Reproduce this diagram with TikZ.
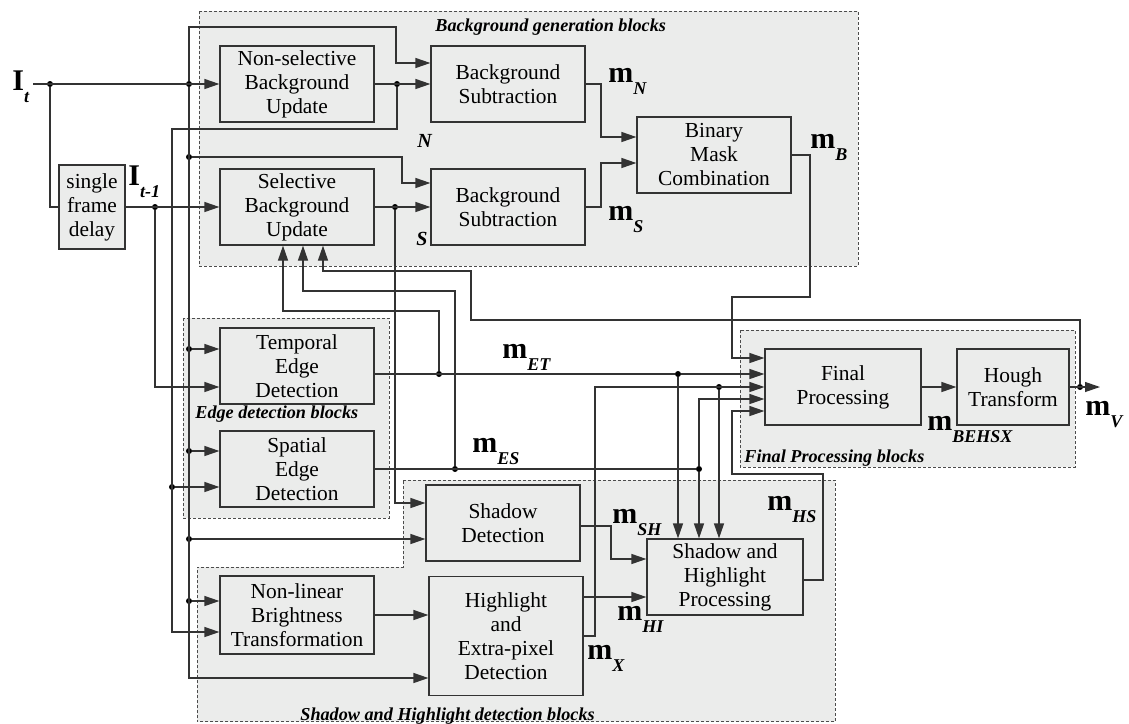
\documentclass[tikz,border=0pt]{standalone}
\usepackage{fontspec}
\setmainfont{Liberation Serif}
\usepackage{tikz}
\usetikzlibrary{arrows.meta}

\definecolor{boxgray}{RGB}{235,236,235}
\newcommand{\boxfont}{\fontsize{10.7}{12}\selectfont}
\newcommand{\ttlfont}{\fontsize{9.1}{11}\selectfont\bfseries\itshape}
% bold signal name with lowered bold-italic index
\newcommand{\msig}[2]{{\fontsize{15}{15}\selectfont\bfseries #1}\raisebox{-6pt}{\fontsize{9}{10}\selectfont\bfseries\itshape #2}}

\tikzset{
  blk/.style={draw=black!80, fill=boxgray, line width=0.6pt, align=center, inner sep=1pt,
    font=\boxfont, minimum width=77pt, minimum height=38pt},
  grp/.style={draw=black!70, fill=boxgray, line width=0.5pt, dash pattern=on 1.5pt off 1pt},
  wire/.style={draw=black!80, line width=0.6pt, -{Triangle[length=7.5pt,width=5pt]}},
  link/.style={draw=black!80, line width=0.6pt},
  dot/.style={circle, fill=black, inner sep=0pt, minimum size=3pt},
  ttl/.style={font=\ttlfont, anchor=base west, inner sep=0pt},
  lab/.style={anchor=base west, inner sep=0pt},
}

\begin{document}
\begin{tikzpicture}[x=0.5pt,y=-0.5pt]
  \useasboundingbox (0,0) rectangle (1129,723);

  % block groups
  \draw[grp] (199,11) rectangle (858,266);
  \draw[grp] (183,318) rectangle (389,518);
  \draw[grp] (740,330) rectangle (1075,467);
  \draw[grp] (403,480) -- (835,480) -- (835,721.5) -- (197,721.5) -- (197,567) -- (403,567) -- cycle;
  \node[ttl] at (435,31) {Background generation blocks};
  \node[ttl] at (195,418) {Edge detection blocks};
  \node[ttl] at (744,462) {Final Processing blocks};
  \node[ttl] at (300,720) {Shadow and Highlight detection blocks};

  % blocks
  \node[blk, minimum width=33pt, minimum height=42pt] (delay) at (92,207) {single\\frame\\delay};
  \node[blk] (nsbu) at (297,84) {Non-selective\\Background\\Update};
  \node[blk] (sbu) at (297,207) {Selective\\Background\\Update};
  \node[blk] (bs1) at (508,84) {Background\\Subtraction};
  \node[blk] (bs2) at (508,207) {Background\\Subtraction};
  \node[blk] (bmc) at (714,155) {Binary\\Mask\\Combination};
  \node[blk] (ted) at (297,366) {Temporal\\Edge\\Detection};
  \node[blk] (sed) at (297,469) {Spatial\\Edge\\Detection};
  \node[blk] (sd) at (503,523) {Shadow\\Detection};
  \node[blk, minimum height=39pt] (nlb) at (297,615) {Non-linear\\Brightness\\Transformation};
  \node[blk, minimum height=59.5pt] (hed) at (506,636) {Highlight\\and\\Extra-pixel\\Detection};
  \node[blk, minimum width=78pt] (shp) at (725,577) {Shadow and\\Highlight\\Processing};
  \node[blk, minimum width=78pt] (fp) at (843,387) {Final\\Processing};
  \node[blk, minimum width=56pt] (hough) at (1013,387) {Hough\\Transform};

  % junctions
  \coordinate (itin) at (33,84);
  \coordinate (mv) at (1100,387);
  \node[dot] (ja) at (50,84) {};
  \node[dot] (jb) at (189,84) {};
  \node[dot] (jc) at (155,207) {};
  \node[dot] (jd) at (189,157) {};
  \node[dot] (je) at (189,349) {};
  \node[dot] (jf) at (189,451) {};
  \node[dot] (jg) at (189,539) {};
  \node[dot] (jh) at (189,601) {};
  \node[dot] (ji) at (397,84) {};
  \node[dot] (jj) at (172,487) {};
  \node[dot] (jk) at (395,207) {};
  \node[dot] (jl) at (439,374) {};
  \node[dot] (jm) at (678,374) {};
  \node[dot] (jn) at (455,469) {};
  \node[dot] (jo) at (699,469) {};
  \node[dot] (jp) at (719,387) {};
  \node[dot] (jq) at (1080,387) {};

  % current frame
  \draw[wire] (itin) -- (nsbu.west);
  \draw[link] (ja) |- (delay.west);
  \draw[wire] (jb) |- (396,27) |- ([yshift=10.5pt]bs1.west);
  \draw[wire] (jb) |- ([yshift=-21pt]hed.west);
  \draw[wire] (jd) -- (402,157) |- ([yshift=12pt]bs2.west);
  \draw[wire] (je) -- (je -| ted.west);
  \draw[wire] (jf) -- (jf -| sed.west);
  \draw[wire] (jg) -- (jg -| sd.west);
  \draw[wire] (jh) -- (jh -| nlb.west);

  % previous frame
  \draw[wire] (delay.east) -- (sbu.west);
  \draw[wire] (jc) |- ([yshift=-10.5pt]ted.west);

  % background models
  \draw[wire] (nsbu.east) -- (bs1.west);
  \draw[wire] (ji) |- (172,129) |- ([yshift=-8.5pt]nlb.west);
  \draw[wire] (jj) -- (jj -| sed.west);
  \draw[wire] (sbu.east) -- (bs2.west);
  \draw[wire] (jk) |- ([yshift=10pt]sd.west);
  \draw[wire] (bs1.east) -- (601,84) |- ([yshift=9pt]bmc.west);
  \draw[wire] (bs2.east) -- (601,207) |- ([yshift=-4pt]bmc.west);
  \draw[wire] (bmc.east) -- (810,155) |- (732,297) |- ([yshift=14.5pt]fp.west);

  % edge masks
  \draw[wire] ([yshift=-4pt]ted.east) -- (jm) -- ([yshift=6.5pt]fp.west);
  \draw[wire] (jl) |- (283,311) -- ([xshift=-7pt]sbu.south);
  \draw[wire] (jm) -- (jm |- shp.north);
  \draw[link] (sed.east) -- (jo);
  \draw[wire] (jn) |- (303,291) -- ([xshift=3pt]sbu.south);
  \draw[wire] (jo) |- ([yshift=-6pt]fp.west);
  \draw[wire] (jo) -- (jo |- shp.north);

  % shadow and highlight
  \draw[wire] (nlb.east) -- (nlb.east -| hed.west);
  \draw[wire] ([yshift=-1.5pt]sd.east) -- (611,526) |- ([yshift=9pt]shp.west);
  \draw[wire] ([yshift=19.5pt]hed.east) -- ([yshift=-10pt]shp.west);
  \draw[wire] (hed.east) -- (595,636) |- (fp.west);
  \draw[wire] (jp) -- (jp |- shp.north);
  \draw[wire] ([yshift=-1.5pt]shp.east) -- (823,580) |- (732,474) |- ([yshift=-12pt]fp.west);

  % final output and feedback
  \draw[wire] (fp) -- (hough);
  \draw[wire] (hough.east) -- (mv);
  \draw[wire] (jq) |- (471,320) |- (323,271) -- ([xshift=13pt]sbu.south);

  % signal labels
  \node[lab] at (12,90) {\msig{I}{t}};
  \node[lab] at (128,185) {\msig{I}{t-1}};
  \node[lab] at (608,82) {\msig{m}{N}};
  \node[lab] at (608,220) {\msig{m}{S}};
  \node[lab] at (810,148) {\msig{m}{B}};
  \node[lab] at (502,358) {\msig{m}{ET}};
  \node[lab] at (472,452) {\msig{m}{ES}};
  \node[lab] at (612,523) {\msig{m}{SH}};
  \node[lab] at (617,620) {\msig{m}{HI}};
  \node[lab] at (587,659) {\msig{m}{X}};
  \node[lab] at (767,510) {\msig{m}{HS}};
  \node[lab] at (927,430) {\msig{m}{BEHSX}};
  \node[lab] at (1085,415) {\msig{m}{V}};
  \node[lab, font=\fontsize{10}{12}\selectfont\bfseries\itshape] at (417,147) {N};
  \node[lab, font=\fontsize{10}{12}\selectfont\bfseries\itshape] at (416,245) {S};
\end{tikzpicture}
\end{document}
